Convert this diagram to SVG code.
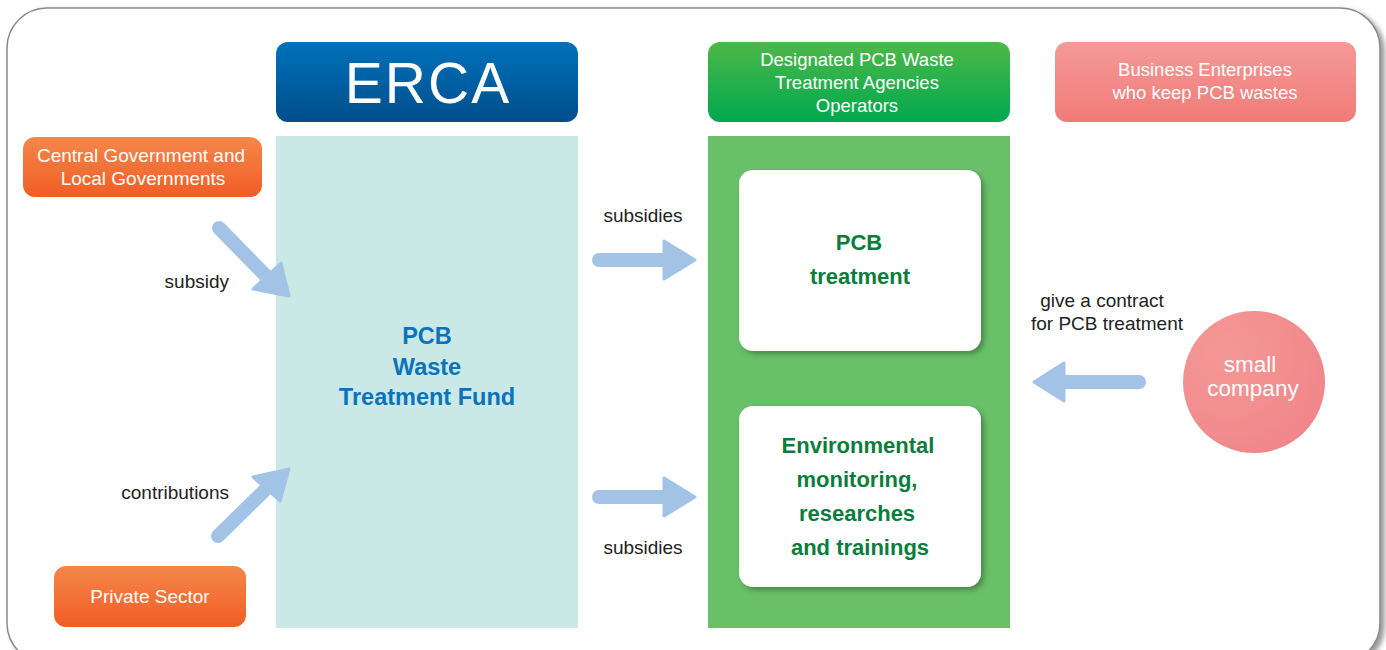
<svg xmlns="http://www.w3.org/2000/svg" width="1386" height="650" viewBox="0 0 1386 650">
<defs>
<linearGradient id="gBlue" x1="0" y1="0" x2="0" y2="1"><stop offset="0" stop-color="#0071bb"/><stop offset="1" stop-color="#004e8a"/></linearGradient>
<linearGradient id="gGreen" x1="0" y1="0" x2="0" y2="1"><stop offset="0" stop-color="#4db848"/><stop offset="1" stop-color="#00a84f"/></linearGradient>
<linearGradient id="gPink" x1="0" y1="0" x2="0" y2="1"><stop offset="0" stop-color="#f49a98"/><stop offset="1" stop-color="#f17b78"/></linearGradient>
<linearGradient id="gOrange" x1="0" y1="0" x2="0" y2="1"><stop offset="0" stop-color="#f4874b"/><stop offset="1" stop-color="#f15d25"/></linearGradient>
<radialGradient id="gCircle" cx="0.3" cy="0.3" r="0.8"><stop offset="0" stop-color="#f49895"/><stop offset="1" stop-color="#f0868a"/></radialGradient>
<filter id="sh" x="-10%" y="-10%" width="125%" height="125%"><feDropShadow dx="3" dy="3" stdDeviation="2.5" flood-color="#2d5a2d" flood-opacity="0.55"/></filter>
<filter id="fsh" x="-5%" y="-5%" width="110%" height="110%"><feDropShadow dx="4" dy="3" stdDeviation="2.5" flood-color="#555" flood-opacity="0.6"/></filter>
</defs>
<style>
.w{font-family:"Liberation Sans",Arial,sans-serif;fill:#fff;text-anchor:middle}
.lbl{font-family:"Liberation Sans",Arial,sans-serif;fill:#222;font-size:19px}
.fund{font-family:"Liberation Sans",Arial,sans-serif;fill:#0a73bc;font-weight:bold;font-size:23.5px;text-anchor:middle}
.gt{font-family:"Liberation Sans",Arial,sans-serif;fill:#0a7d3c;font-weight:bold;font-size:22px;text-anchor:middle}
.shaft{stroke:#a3c3e6;stroke-width:14;stroke-linecap:round;fill:none}
.head{fill:#a3c3e6;stroke:#a3c3e6;stroke-width:3;stroke-linejoin:round}
</style>
<rect width="1386" height="650" fill="#fff"/>
<rect id="frame" x="7" y="8" width="1373" height="655" rx="40" fill="#fff" stroke="#8a8a8a" stroke-width="1.5" filter="url(#fsh)"/>

<g id="erca-header">
<rect x="276" y="42" width="302" height="80" rx="12" fill="url(#gBlue)"/>
<text x="428" y="103" class="w" font-size="57" letter-spacing="2">ERCA</text>
</g>
<g id="fund">
<rect x="276" y="136" width="302" height="492" fill="#c9e8e6"/>
<text class="fund" x="427" y="344">PCB</text>
<text class="fund" x="427" y="375">Waste</text>
<text class="fund" x="427" y="405">Treatment Fund</text>
</g>

<g id="agencies-header">
<rect x="708" y="42" width="302" height="80" rx="12" fill="url(#gGreen)"/>
<text class="w" font-size="18.5" x="857" y="66">Designated PCB Waste</text>
<text class="w" font-size="18.5" x="857" y="89">Treatment Agencies</text>
<text class="w" font-size="18.5" x="857" y="112">Operators</text>
</g>
<g id="agencies">
<rect x="708" y="136" width="302" height="492" fill="#6abf69"/>
</g>
<g id="pcb-treatment">
<rect x="739" y="170" width="242" height="181" rx="14" fill="#fff" filter="url(#sh)"/>
<text class="gt" x="859" y="250">PCB</text>
<text class="gt" x="860" y="284">treatment</text>
</g>
<g id="env-monitoring">
<rect x="739" y="406" width="242" height="181" rx="14" fill="#fff" filter="url(#sh)"/>
<text class="gt" x="858" y="453">Environmental</text>
<text class="gt" x="857" y="487">monitoring,</text>
<text class="gt" x="857" y="521">researches</text>
<text class="gt" x="860" y="555">and trainings</text>
</g>

<g id="business-header">
<rect x="1055" y="42" width="301" height="80" rx="12" fill="url(#gPink)"/>
<text class="w" font-size="18.5" x="1205" y="76">Business Enterprises</text>
<text class="w" font-size="18.5" x="1205" y="99">who keep PCB wastes</text>
</g>
<g id="small-company">
<circle cx="1254" cy="382" r="71" fill="url(#gCircle)"/>
<text class="w" font-size="22.5" x="1250" y="372">small</text>
<text class="w" font-size="22.5" x="1253" y="396">company</text>
</g>

<g id="central-gov">
<rect x="23" y="137" width="239" height="60" rx="12" fill="url(#gOrange)"/>
<text class="w" font-size="19" x="141" y="162">Central Government and</text>
<text class="w" font-size="19" x="143" y="185">Local Governments</text>
</g>
<g id="private-sector">
<rect x="54" y="566" width="192" height="61" rx="12" fill="url(#gOrange)"/>
<text class="w" font-size="19" x="150" y="603">Private Sector</text>
</g>

<g id="connectors">
<line class="shaft" x1="219" y1="228" x2="266" y2="276"/>
<polygon class="head" points="281,263 289,296 253,289"/>
<line class="shaft" x1="218" y1="536" x2="266" y2="489"/>
<polygon class="head" points="289,469 253,477 280,501"/>
<line class="shaft" x1="599" y1="260" x2="666" y2="260"/>
<polygon class="head" points="664,241 695,260 664,279"/>
<line class="shaft" x1="599" y1="497" x2="666" y2="497"/>
<polygon class="head" points="664,478 695,497 664,516"/>
<line class="shaft" x1="1139" y1="382" x2="1062" y2="382"/>
<polygon class="head" points="1064,363 1034,382 1064,401"/>
<text class="lbl" x="643" y="222" text-anchor="middle">subsidies</text>
<text class="lbl" x="643" y="554" text-anchor="middle">subsidies</text>
<text class="lbl" x="229" y="288" text-anchor="end">subsidy</text>
<text class="lbl" x="229" y="499" text-anchor="end">contributions</text>
<text class="lbl" x="1102" y="307" text-anchor="middle">give a contract</text>
<text class="lbl" x="1107" y="330" text-anchor="middle">for PCB treatment</text>
</g>
</svg>
